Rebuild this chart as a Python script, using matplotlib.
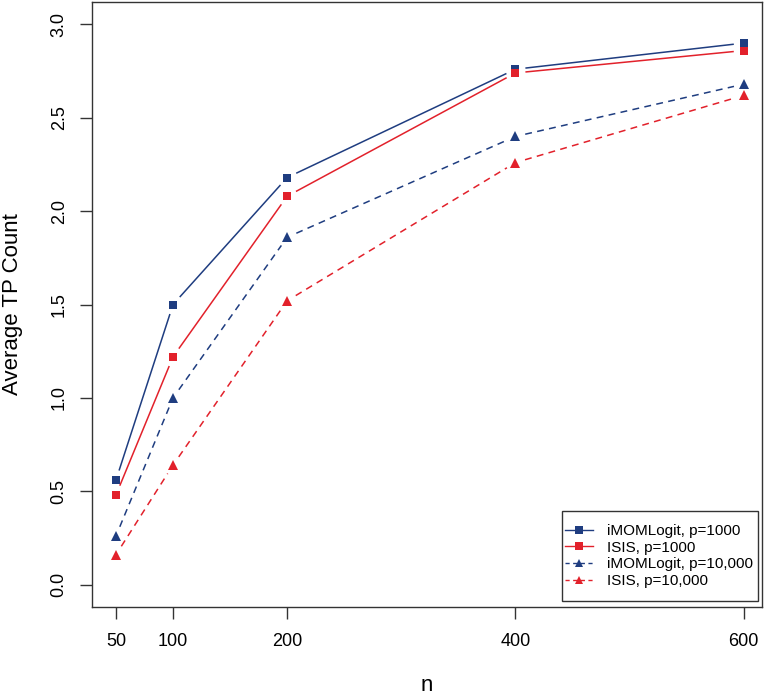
import matplotlib
matplotlib.use('Agg')
import numpy as np
import matplotlib.pyplot as plt
from matplotlib.lines import Line2D
from matplotlib.patches import Rectangle

plt.rcParams['font.family'] = ['Liberation Sans', 'DejaVu Sans']

BLUE = '#1F3D80'
RED = '#E2212B'
AXC = '#333333'

n_vals = [50, 100, 200, 400, 600]
imom_1000 = [0.56, 1.50, 2.18, 2.76, 2.90]
isis_1000 = [0.48, 1.22, 2.08, 2.74, 2.86]
imom_10000 = [0.26, 1.00, 1.86, 2.40, 2.68]
isis_10000 = [0.16, 0.64, 1.52, 2.26, 2.62]

series = [
    ('iMOMLogit, p=1000', imom_1000, BLUE, 's', '-'),
    ('ISIS, p=1000', isis_1000, RED, 's', '-'),
    ('iMOMLogit, p=10,000', imom_10000, BLUE, '^', '--'),
    ('ISIS, p=10,000', isis_10000, RED, '^', '--'),
]

fig = plt.figure(figsize=(7.68, 6.96), dpi=100)
ax = fig.add_axes([92 / 768, 89 / 696, 670 / 768, 605 / 696])
ax.set_xlim(29, 616)
ax.set_ylim(-0.12, 3.12)

GAP = 10  # px gap around points, like R type="b"


def gapped(x, y, color, ls):
    tr = ax.transData
    pts = tr.transform(np.column_stack([x, y]))
    for p0, p1 in zip(pts[:-1], pts[1:]):
        d = p1 - p0
        L = np.hypot(*d)
        if L <= 2 * GAP:
            continue
        u = d / L
        a = tr.inverted().transform([p0 + u * GAP, p1 - u * GAP])
        ln = Line2D(a[:, 0], a[:, 1], color=color, lw=1.1,
                    solid_capstyle='butt', dash_capstyle='butt')
        if ls == '--':
            ln.set_dashes((4.5, 3.5))
        ax.add_line(ln)


handles = []
for label, vals, col, mk, ls in series:
    gapped(n_vals, vals, col, ls)
    ax.plot(n_vals, vals, linestyle='none', marker=mk, color=col,
            markersize=7 if mk == '^' else 6, markeredgewidth=0)
    h = Line2D([], [], color=col, lw=1.0, marker=mk,
               markersize=6 if mk == '^' else 5.5, markeredgewidth=0)
    if ls == '--':
        h.set_dashes((3, 2.5))
    handles.append(h)

ax.set_xticks(n_vals)
ax.set_yticks([0.0, 0.5, 1.0, 1.5, 2.0, 2.5, 3.0])
ax.set_yticklabels(['0.0', '0.5', '1.0', '1.5', '2.0', '2.5', '3.0'],
                   rotation=90, va='center')
ax.tick_params(axis='both', direction='out', length=8.5, width=1.0,
               color=AXC, labelsize=13)
ax.tick_params(axis='y', pad=9)
ax.tick_params(axis='x', pad=10)
for s in ax.spines.values():
    s.set_color(AXC)
    s.set_linewidth(1.0)

ax.set_xlabel('n', fontsize=16, labelpad=18)
ax.set_ylabel('Average TP Count', fontsize=16, labelpad=20)

# legend box drawn by hand (R-style padding)
ax.add_patch(Rectangle((0.7015, 0.0099), 0.2925, 0.1488, transform=ax.transAxes,
                       facecolor='white', edgecolor=AXC, lw=1.0, zorder=5))
leg = ax.legend(handles, [s[0] for s in series], loc='center left',
                bbox_to_anchor=(0.7015, 0.0843), fontsize=11, frameon=False,
                handlelength=1.85, handletextpad=0.9, labelspacing=0.17,
                borderpad=0.2, borderaxespad=0)
leg.set_zorder(6)

fig.savefig('out.png', dpi=100)
